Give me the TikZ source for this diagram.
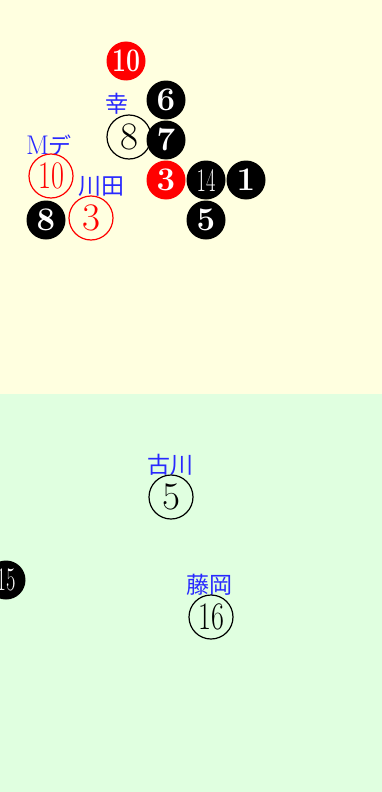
\documentclass[tikz,border=0pt]{standalone}
\usepackage{fontspec}
\newfontfamily\cjk{Noto Sans CJK JP}
\definecolor{bgyel}{HTML}{FFFFE0}
\definecolor{bggrn}{HTML}{E0FFE0}
\definecolor{lblblue}{HTML}{2828FF}
\begin{document}
\begin{tikzpicture}[x=1pt,y=-1pt,
  blk/.style={circle, fill=black, minimum size=39pt, inner sep=0pt, text=white, font=\fontsize{33}{33}\selectfont\bfseries},
  redf/.style={blk, fill=red},
  oc/.style={circle, draw=black, line width=1.2pt, minimum size=44pt, inner sep=0pt, font=\fontsize{39}{39}\selectfont},
  ocred/.style={oc, draw=red, text=red},
  lbl/.style={inner sep=0pt, text=lblblue, font=\fontsize{23}{23}\cjk}
]
\useasboundingbox (0,0) rectangle (382,792);
\fill[bgyel] (0,0) rectangle (382,394);
\fill[bggrn] (0,394) rectangle (382,792);
% top half
\node[redf] (r10) at (126,61) {\scalebox{0.75}[1]{10}};
\node[blk] (b6) at (166,100) {6};
\node[lbl] (lsachi) at (117,104) {幸};
\node[oc] (o8) at (129,137) {8};
\node[blk] (b7) at (166,140) {7};
\node[lbl] (lmde) at (49,145) {{\fontsize{27}{27}\rmfamily M}デ};
\node[ocred] (o10) at (51,176) {\scalebox{0.72}[1]{10}};
\node[lbl] (lkawada) at (101,186) {川田};
\node[redf] (r3) at (166,180) {3};
\node[blk, font=\fontsize{33}{33}\selectfont] (b14) at (206,180) {\scalebox{0.62}[1]{14}};
\node[blk] (b1) at (246,180) {1};
\node[blk] (b8) at (46,220) {8};
\node[ocred] (o3) at (91,218) {3};
\node[blk] (b5) at (206,220) {5};
% bottom half
\node[lbl] (lfurukawa) at (170,465) {古川};
\node[oc] (o5) at (171,497) {5};
\node[blk, font=\fontsize{33}{33}\selectfont] (b15) at (6,580) {\scalebox{0.62}[1]{15}};
\node[lbl] (lfujioka) at (209,585) {藤岡};
\node[oc] (o16) at (211,617) {\scalebox{0.72}[1]{16}};
\end{tikzpicture}
\end{document}
